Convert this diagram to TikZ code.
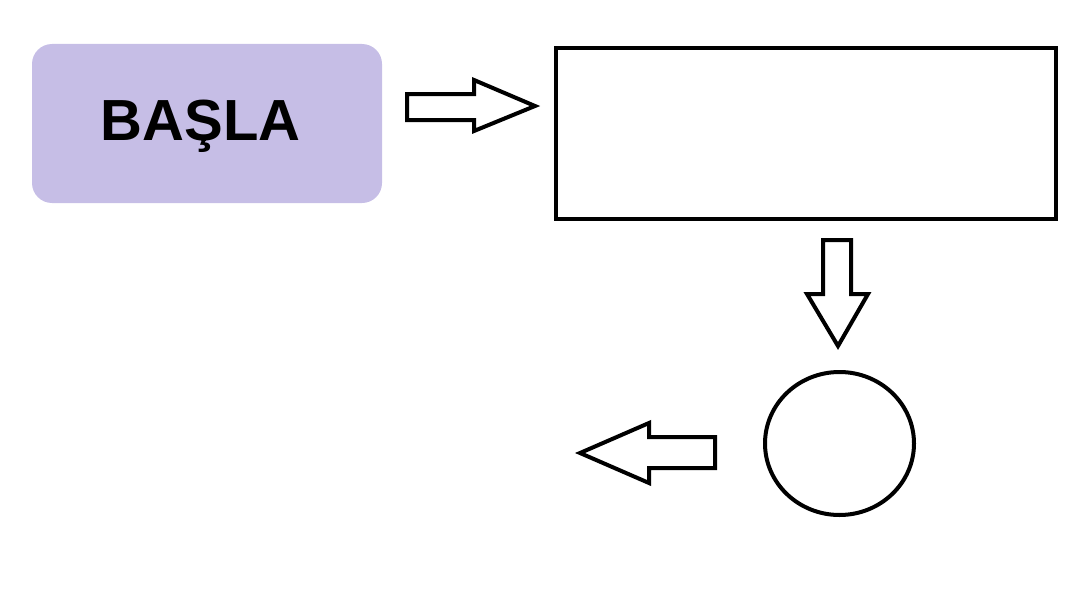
\documentclass[tikz,border=0pt]{standalone}
\usepackage{fontspec}
\setmainfont{Liberation Sans}
\definecolor{startfill}{HTML}{C6BEE6}
\begin{document}
\begin{tikzpicture}[x=1pt,y=-1pt,
  outline/.style={draw=black,line width=4pt,line join=miter},
  blockarrow/.style={draw=black,line width=4pt,line join=miter,fill=white}]
\useasboundingbox (0,0) rectangle (1068,602);
% start box
\fill[startfill,rounded corners=20pt] (32,44) rectangle (382,203);
\node[anchor=base,inner sep=0pt,font=\fontsize{58}{70}\selectfont\bfseries] (start) at (200.5,140) {BAŞLA};
% process rectangle
\draw[outline] (556,48) rectangle (1056,219);
\coordinate (proc) at (806,133.5);
% right block arrow
\draw[blockarrow] (407,94) -- (474,94) -- (474,80) -- (535,106) -- (474,131) -- (474,120) -- (407,120) -- cycle;
% down block arrow
\draw[blockarrow] (823,240) -- (851,240) -- (851,294) -- (868,294) -- (838,346) -- (807,294) -- (823,294) -- cycle;
% circle
\draw[outline] (839.5,443.5) ellipse [x radius=74.5, y radius=71.5];
\coordinate (circ) at (839.5,443.5);
% left block arrow
\draw[blockarrow] (715,437) -- (649,437) -- (649,423) -- (580,453) -- (649,483) -- (649,468) -- (715,468) -- cycle;
\end{tikzpicture}
\end{document}
